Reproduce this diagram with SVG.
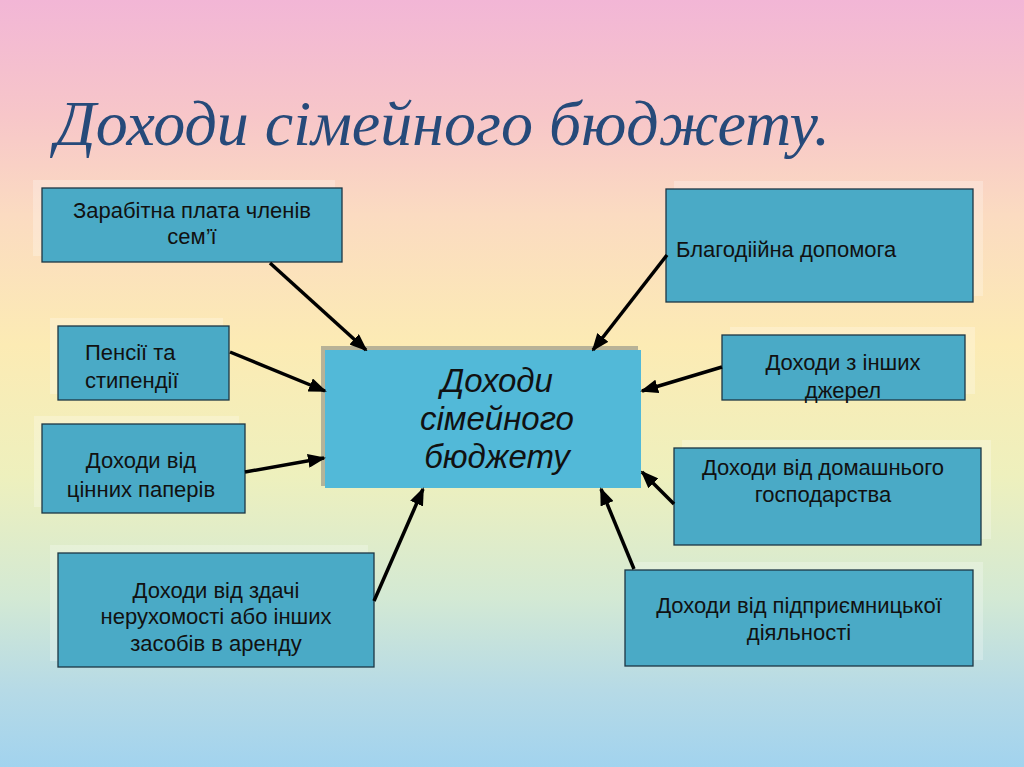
<svg xmlns="http://www.w3.org/2000/svg" width="1024" height="767" viewBox="0 0 1024 767">
<defs>
<linearGradient id="bg" x1="0" y1="0" x2="0" y2="1">
<stop offset="0" stop-color="#f2b6d6"/>
<stop offset="0.15" stop-color="#f7c6c9"/>
<stop offset="0.28" stop-color="#fbdbc1"/>
<stop offset="0.45" stop-color="#fcebb4"/>
<stop offset="0.62" stop-color="#eef0bd"/>
<stop offset="0.78" stop-color="#d3e9d4"/>
<stop offset="0.9" stop-color="#b6dae6"/>
<stop offset="1" stop-color="#a2d3ee"/>
</linearGradient>
<marker id="ah" markerUnits="userSpaceOnUse" markerWidth="18" markerHeight="14" refX="16" refY="7" orient="auto">
<path d="M0,0 L18,7 L0,14 Z" fill="#000"/>
</marker>
<style>
.box{fill:#4aaac6;stroke:#1d3644;stroke-width:1.3}
.halo{fill:#ffffff;opacity:0.25}
.t{font-family:"Liberation Sans",Arial,sans-serif;font-size:22px;fill:#111}
.c{text-anchor:middle}
.conn line{stroke:#000;stroke-width:3.5;marker-end:url(#ah)}
</style>
</defs>
<rect width="1024" height="767" fill="url(#bg)"/>
<text x="55" y="145" font-family="'Liberation Serif','DejaVu Serif',serif" font-style="italic" font-size="64" fill="#264a7a" textLength="775" lengthAdjust="spacingAndGlyphs">Доходи сімейного бюджету.</text>

<g id="n1">
<rect class="halo" x="33" y="180" width="302" height="76"/>
<rect class="box" x="42" y="188" width="300" height="74"/>
<text class="t c" x="192" y="218">Зарабітна плата членів</text>
<text class="t c" x="192" y="244">сем’ї</text>
</g>
<g id="n2">
<rect class="halo" x="50" y="318" width="173" height="76"/>
<rect class="box" x="58" y="326" width="171" height="74"/>
<text class="t" x="85" y="360">Пенсії та</text>
<text class="t" x="85" y="388">стипендії</text>
</g>
<g id="n3">
<rect class="halo" x="34" y="416" width="205" height="91"/>
<rect class="box" x="42" y="424" width="203" height="89"/>
<text class="t c" x="141" y="468">Доходи від</text>
<text class="t c" x="141" y="497">цінних паперів</text>
</g>
<g id="n4">
<rect class="halo" x="50" y="545" width="318" height="116"/>
<rect class="box" x="58" y="553" width="316" height="114"/>
<text class="t c" x="216" y="598">Доходи від здачі</text>
<text class="t c" x="216" y="624">нерухомості або інших</text>
<text class="t c" x="216" y="651">засобів в аренду</text>
</g>
<g id="center">
<rect x="321" y="346" width="317" height="140" fill="#9a9a8a" opacity="0.7"/>
<rect x="325" y="350" width="316" height="138" fill="#52b9d8"/>
<g font-family="'Liberation Sans',Arial,sans-serif" font-style="italic" font-size="33" fill="#111" text-anchor="middle">
<text x="497" y="392">Доходи</text>
<text x="497" y="430">сімейного</text>
<text x="497" y="468">бюджету</text>
</g>
</g>
<g id="n6">
<rect class="halo" x="674" y="181" width="309" height="115"/>
<rect class="box" x="666" y="189" width="307" height="113"/>
<text class="t" x="676" y="257">Благодіійна допомога</text>
</g>
<g id="n7">
<rect class="halo" x="730" y="327" width="245" height="67"/>
<rect class="box" x="722" y="335" width="243" height="65"/>
<text class="t c" x="843" y="370">Доходи з інших</text>
<text class="t c" x="843" y="398">джерел</text>
</g>
<g id="n8">
<rect class="halo" x="682" y="440" width="309" height="99"/>
<rect class="box" x="674" y="448" width="307" height="97"/>
<text class="t c" x="823" y="475">Доходи від домашнього</text>
<text class="t c" x="823" y="502">господарства</text>
</g>
<g id="n9">
<rect class="halo" x="633" y="562" width="350" height="98"/>
<rect class="box" x="625" y="570" width="348" height="96"/>
<text class="t c" x="799" y="613">Доходи від підприємницької</text>
<text class="t c" x="799" y="640">діяльності</text>
</g>

<g id="connectors" class="conn">
<line x1="270" y1="263" x2="366" y2="350"/>
<line x1="230" y1="352" x2="325" y2="391"/>
<line x1="245" y1="472" x2="324" y2="458"/>
<line x1="374" y1="601" x2="423" y2="489"/>
<line x1="667" y1="255" x2="593" y2="350"/>
<line x1="722" y1="367" x2="642" y2="391"/>
<line x1="674" y1="504" x2="642" y2="472"/>
<line x1="634" y1="569" x2="601" y2="489"/>
</g>
</svg>
